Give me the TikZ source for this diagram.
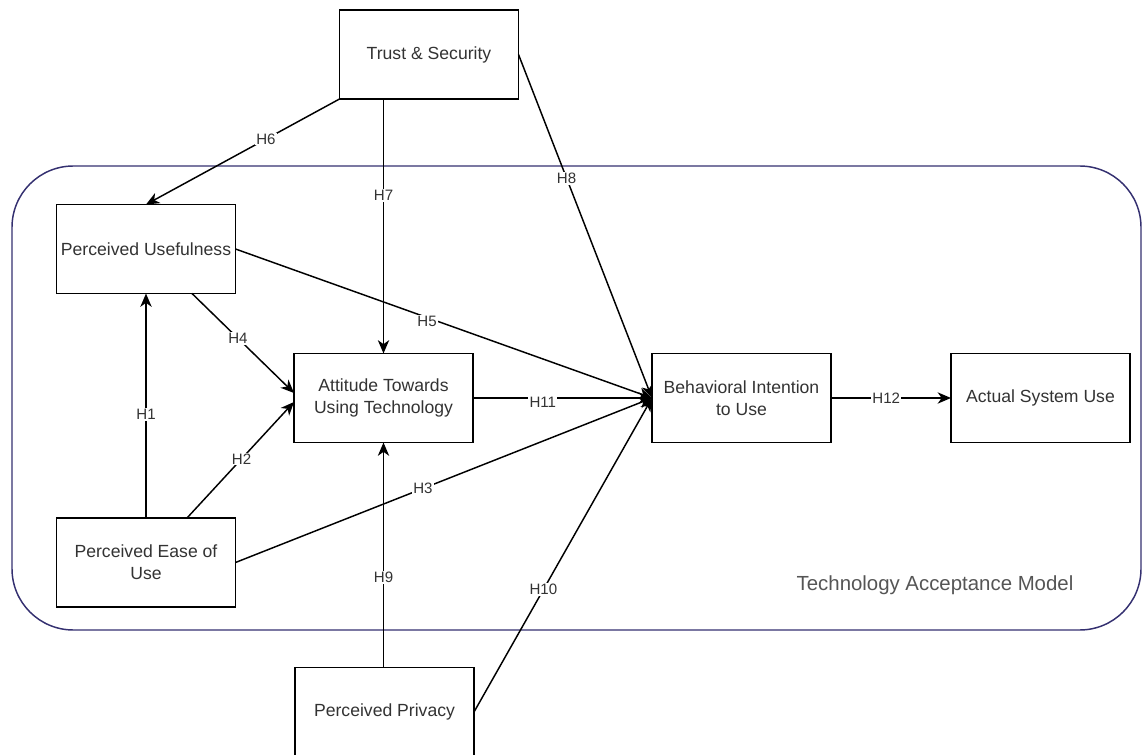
\documentclass[tikz,border=0pt]{standalone}
\usepackage{fontspec}
\setmainfont{Liberation Sans}
\usetikzlibrary{arrows.meta,calc}
\definecolor{tamcol}{RGB}{52,48,112}
\definecolor{txt}{RGB}{51,51,51}
\begin{document}
\begin{tikzpicture}[x=0.75pt,y=-0.75pt,
  box/.style={draw=black,line width=1.1pt,fill=white,minimum width=134.25pt,minimum height=66.75pt,
    inner sep=0pt,outer sep=0pt,align=center,text=txt,font=\fontsize{13.2}{16.3}\selectfont},
  conn/.style={draw=black,line width=1.1pt,-{Stealth[length=10pt,width=8.5pt,inset=3pt]}},
  lab/.style={fill=white,text=txt,inner sep=0.8pt,font=\fontsize{11.3}{13}\selectfont},
  tam/.style={draw=tamcol,line width=1.1pt,rounded corners=46pt}]
\useasboundingbox (0,0) rectangle (1142,755);
% TAM container
\draw[tam] (12,166) rectangle (1141,630);
\node[text={rgb,255:red,85;green,85;blue,85},font=\fontsize{15.3}{18}\selectfont] (tamlabel) at (935,585) {Technology Acceptance Model};
% nodes
\node[box] (trust) at (429,54.5) {Trust \& Security};
\node[box] (pu) at (146,249) {Perceived Usefulness};
\node[box] (att) at (383.5,398) {Attitude Towards\\Using Technology};
\node[box] (bi) at (741.5,398) {Behavioral Intention\\to Use};
\node[box] (asu) at (1040.5,398) {Actual System Use};
\node[box] (peu) at (146,562.5) {Perceived Ease of\\Use};
\node[box] (priv) at (384.5,712) {Perceived Privacy};
% connectors
\draw[conn] (trust.south west) -- node[lab,pos=0.38] {H6} (pu.north);
\draw[conn] (att.north |- trust.south) -- node[lab,pos=0.38] {H7} (att.north);
\draw[conn] (trust.east) -- node[lab,pos=0.36] {H8} (bi.west);
\draw[conn] (pu.east) -- node[lab,pos=0.46,yshift=-3pt] {H5} (bi.west);
\draw[conn] ($(pu.south)+(46,0)$) -- node[lab,pos=0.45] {H4} ($(att.west)+(0,-5)$);
\draw[conn] (peu.north) -- node[lab,pos=0.46] {H1} (pu.south);
\draw[conn] ($(peu.north)+(41,0)$) -- node[lab,pos=0.51] {H2} ($(att.west)+(0,4)$);
\draw[conn] (peu.east) -- node[lab,pos=0.45] {H3} (bi.west);
\draw[conn] (att.south |- priv.north) -- node[lab,pos=0.40] {H9} (att.south);
\draw[conn] (priv.east) -- node[lab,pos=0.39] {H10} (bi.west);
\draw[conn] (att.east) -- node[lab,pos=0.39,yshift=-3pt] {H11} (bi.west);
\draw[conn] (bi.east) -- node[lab,pos=0.46] {H12} (asu.west);
\end{tikzpicture}
\end{document}
